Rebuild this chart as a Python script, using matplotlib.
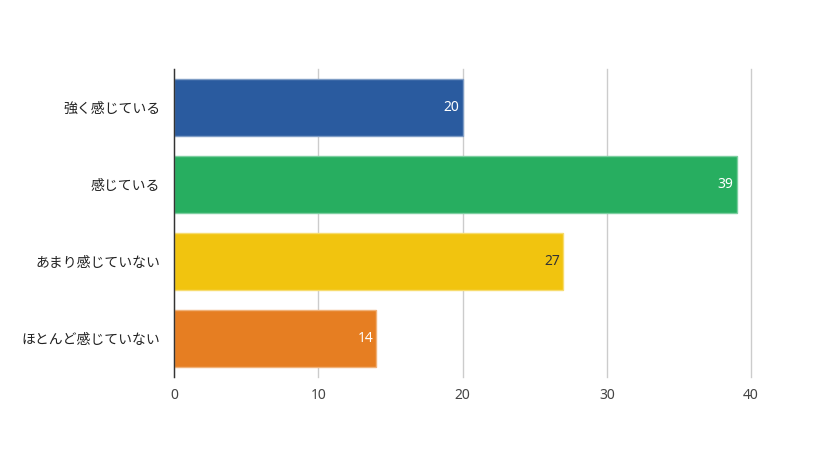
import matplotlib
matplotlib.use("Agg")
import matplotlib.pyplot as plt
import matplotlib.colors as mcolors

plt.rcParams['font.family'] = ['Noto Sans CJK JP', 'DejaVu Sans']

# data
categories = ['強く感じている', '感じている', 'あまり感じていない', 'ほとんど感じていない']
values = [20, 39, 27, 14]
bar_colors = ['#2A5B9F', '#27AE60', '#F1C40F', '#E67E22']
label_colors = ['white', 'white', '#333333', 'white']
x_ticks = [0, 10, 20, 30, 40]

W, H = 838, 458
fig = plt.figure(figsize=(W / 100, H / 100), dpi=100)
# axes box in pixels: left 174, right 751, top 69, bottom 377
ax = fig.add_axes([174 / W, 1 - 377 / H, (751 - 174) / W, (377 - 69) / H])

ypos = list(range(len(categories)))
# lighter edge, like the reference bars
edges = [tuple(0.6 * c + 0.4 for c in mcolors.to_rgb(col)) for col in bar_colors]
ax.barh(ypos, values, height=0.74, color=bar_colors, edgecolor=edges, linewidth=1, zorder=2)

num_font = ['Noto Sans', 'DejaVu Sans']
for y, v, lc in zip(ypos, values, label_colors):
    ax.text(v - 0.2, y, str(v), ha='right', va='center', color=lc, fontsize=10,
            family=num_font, zorder=3)

ax.set_xlim(0, 40)
ax.set_ylim(len(categories) - 0.5, -0.5)
ax.set_xticks(x_ticks)
ax.set_xticklabels([str(t) for t in x_ticks], family=num_font)
ax.set_yticks(ypos)
ax.set_yticklabels(categories, fontsize=10, color='#222222')
ax.tick_params(axis='x', length=0, pad=8, labelsize=10, labelcolor='#444444')
ax.tick_params(axis='y', length=0, pad=10)

ax.grid(axis='x', color='#cccccc', linewidth=1, zorder=0)
for line in ax.get_xgridlines():
    line.set_clip_on(False)
for s in ['top', 'right', 'bottom']:
    ax.spines[s].set_visible(False)
ax.spines['left'].set_color('#333333')
ax.spines['left'].set_linewidth(1)
ax.spines['left'].set_zorder(4)

fig.savefig('out.png', dpi=100)
